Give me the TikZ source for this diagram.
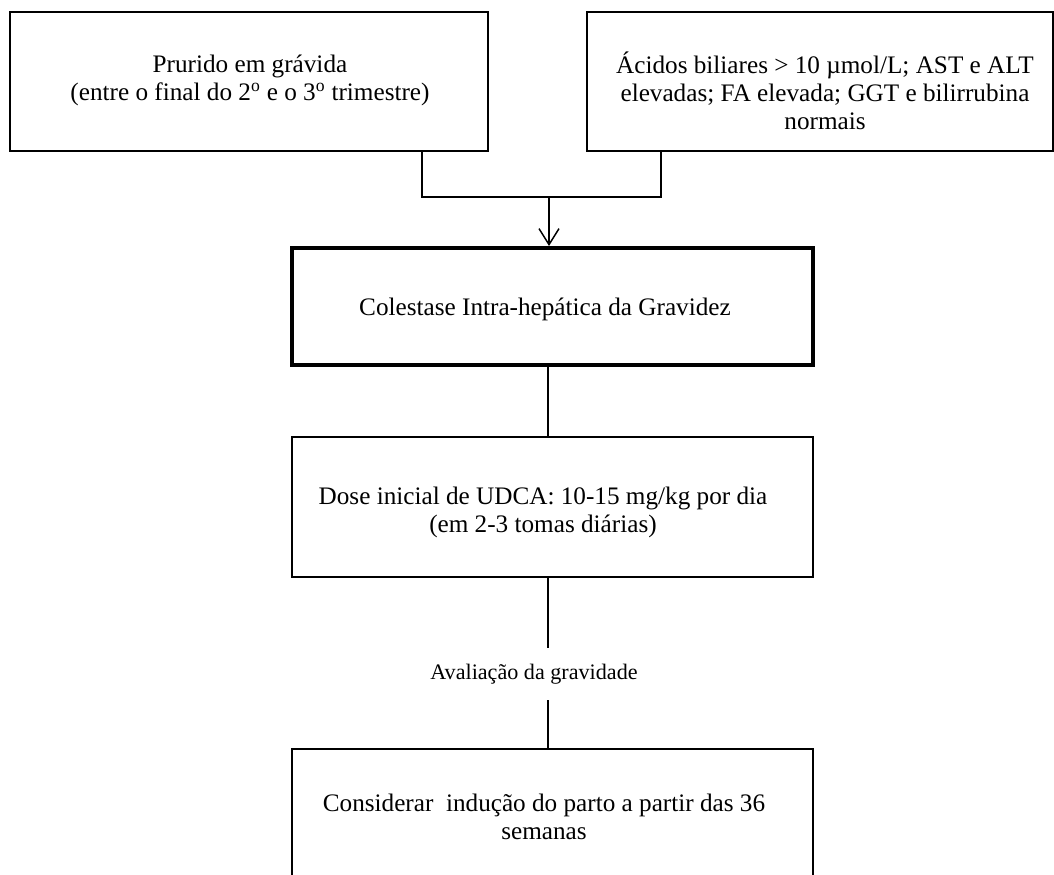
\documentclass[tikz,border=0pt]{standalone}
\usepackage{fontspec}
\setmainfont{Liberation Serif}
\usetikzlibrary{arrows.meta}
\begin{document}
\begin{tikzpicture}[x=0.75pt,y=-0.75pt,
  box/.style={draw, line width=1.1pt, inner sep=0pt},
  thickbox/.style={draw, line width=3pt, inner sep=0pt},
  txt/.style={align=center, inner sep=0pt, font=\fontsize{18.9}{21}\selectfont},
  smalltxt/.style={align=center, inner sep=0pt, font=\fontsize{16.6}{18}\selectfont},
  conn/.style={line width=1.1pt},
  tip/.style={-{Straight Barb[length=12pt,width=15pt,line width=1.1pt]}}]
\clip (0,0) rectangle (1054,875);
\fill[white] (0,0) rectangle (1054,875);
% boxes
\node[box, minimum width=358.5pt, minimum height=104.25pt] (box1) at (249,81.5) {};
\node[box, minimum width=349.5pt, minimum height=104.25pt] (box2) at (820,81.5) {};
\node[thickbox, minimum width=390.75pt, minimum height=87.75pt] (box3) at (552.5,306.5) {};
\node[box, minimum width=390.75pt, minimum height=105pt] (box4) at (552.5,507) {};
\node[box, minimum width=390.75pt, minimum height=117pt] (box5) at (552.5,827) {};
% texts
\node[txt] (t1) at (250,80) {Prurido em grávida\\(entre o final do 2\textsuperscript{o} e o 3\textsuperscript{o} trimestre)};
\node[txt] (t2) at (825,91) {Ácidos biliares > 10 µmol/L; AST e ALT\\elevadas; FA elevada; GGT e bilirrubina\\normais};
\node[txt] (t3) at (545,309) {Colestase Intra-hepática da Gravidez};
\node[txt] (t4) at (543,512) {Dose inicial de UDCA: 10-15 mg/kg por dia\\(em 2-3 tomas diárias)};
\node[txt] (t5) at (544,817) {Considerar~ indução do parto a partir das 36\\semanas};
\node[smalltxt, minimum height=39pt] (lab) at (534,674) {Avaliação da gravidade};
% connectors
\coordinate (m) at (549,197);
\coordinate (v) at (548,0);
\path (box1.south) ++(173,0) coordinate (a1);
\path (box2.south) ++(-159,0) coordinate (a2);
\draw[conn] (a1) |- (m) -| (a2);
\draw[conn, tip] (m) -- (box3.north -| m);
\draw[conn] (box3.south -| v) -- (box4.north -| v);
\draw[conn] (box4.south -| v) -- (lab.north -| v);
\draw[conn] (lab.south -| v) -- (box5.north -| v);
\end{tikzpicture}
\end{document}
